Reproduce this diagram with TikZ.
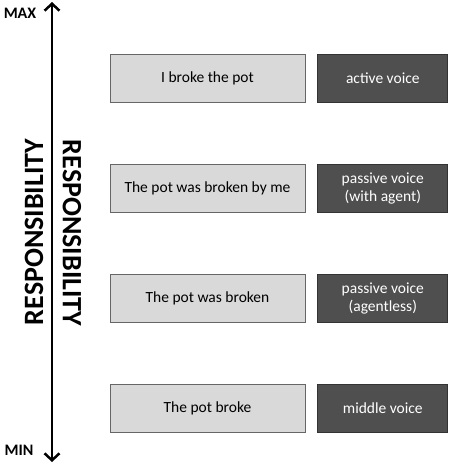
\documentclass[tikz,border=0pt]{standalone}
\usepackage{fontspec}
\setmainfont{Carlito}
\usepackage{tikz}
\usetikzlibrary{arrows.meta, positioning}

\definecolor{lightbox}{HTML}{D9D9D9}
\definecolor{darkbox}{HTML}{4F4F4F}

\tikzset{
  sentence/.style={draw=gray!80!black, fill=lightbox, line width=0.8pt,
    minimum width=195pt, minimum height=48pt, inner sep=0pt,
    font=\fontsize{15.5}{18}\selectfont},
  voice/.style={draw=black!80, fill=darkbox, text=white, line width=0.8pt,
    minimum width=130pt, minimum height=48pt, inner sep=0pt, align=center,
    font=\fontsize{15.5}{18}\selectfont},
  scalelabel/.style={font=\bfseries\fontsize{16}{18}\selectfont},
  axislabel/.style={font=\bfseries\fontsize{28}{30}\selectfont}
}

\begin{document}
\begin{tikzpicture}[x=1pt, y=-1pt, node distance=110pt]
  \useasboundingbox (0,0) rectangle (450,464);

  \node (s1) [sentence] at (207.5,78.5) {I broke the pot};
  \node (s2) [sentence, below of=s1] {The pot was broken by me};
  \node (s3) [sentence, below of=s2] {The pot was broken};
  \node (s4) [sentence, below of=s3] {The pot broke};

  \node (v1) [voice, right=12pt of s1] {active voice};
  \node (v2) [voice, right=12pt of s2] {passive voice\\(with agent)};
  \node (v3) [voice, right=12pt of s3] {passive voice\\(agentless)};
  \node (v4) [voice, right=12pt of s4] {middle voice};

  % scale
  \coordinate (top) at (52,2);
  \coordinate (bottom) at (52,462);
  \draw[line width=2.5pt, {Straight Barb[length=7pt, width=15pt]}-{Straight Barb[length=7pt, width=15pt]}] (bottom) -- (top);

  \node (max) [scalelabel] at (20,13) {MAX};
  \node (min) [scalelabel] at (19,450) {MIN};
  \node (resp1) [axislabel, rotate=90] at (34,232) {RESPONSIBILITY};
  \node (resp2) [axislabel, rotate=-90] at (72,233) {RESPONSIBILITY};
\end{tikzpicture}
\end{document}
